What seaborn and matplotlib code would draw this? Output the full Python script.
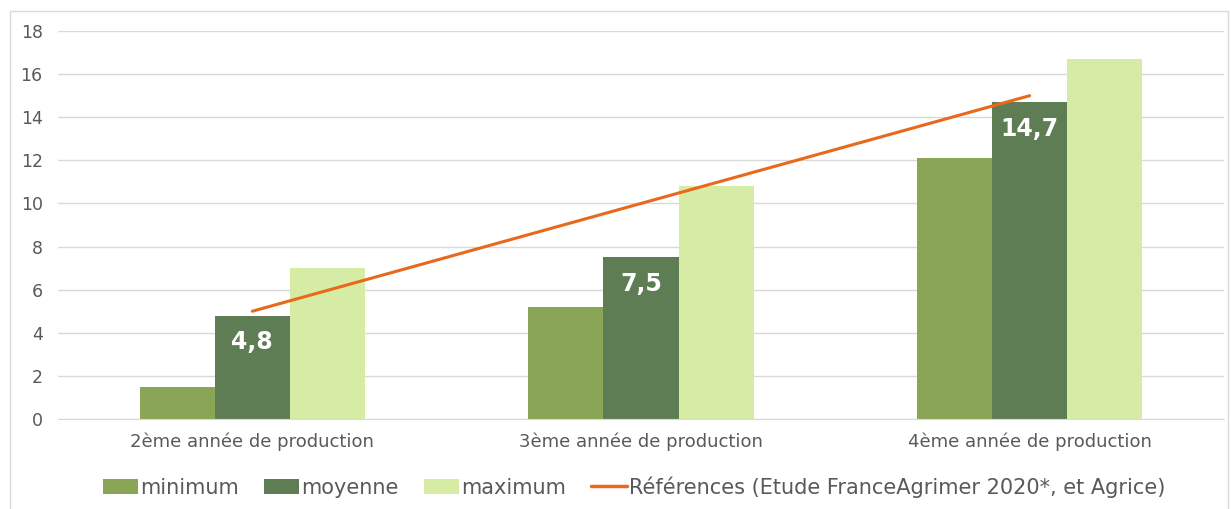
import pandas as pd
import matplotlib.pyplot as plt
import seaborn as sns
from matplotlib.patches import Rectangle, Patch
from matplotlib.lines import Line2D

# data
categories = ["2ème année de production", "3ème année de production", "4ème année de production"]
minimum = [1.5, 5.2, 12.1]
moyenne = [4.8, 7.5, 14.7]
maximum = [7.0, 10.8, 16.7]
references = [5, 10, 15]
series_names = ["minimum", "moyenne", "maximum"]
ref_name = "Références (Etude FranceAgrimer 2020*, et Agrice)"

colors = ["#8AA556", "#5E7D55", "#D6EBA3"]
orange = "#E8681C"
grey_txt = "#595959"

df = pd.DataFrame({
    "cat": categories * 3,
    "serie": [s for s in series_names for _ in categories],
    "val": minimum + moyenne + maximum,
})

sns.set_style("white")
plt.rcParams["font.family"] = ["DejaVu Sans"]

fig = plt.figure(figsize=(12.31, 5.09), dpi=100)
ax = fig.add_axes([58 / 1231, 1 - 419 / 509, (1224 - 58) / 1231, (419 - 31) / 509])

sns.barplot(data=df, x="cat", y="val", hue="serie", palette=colors, width=0.58,
            gap=0, saturation=1, linewidth=0, ax=ax, legend=False)
sns.lineplot(x=[0, 1, 2], y=references, color=orange, linewidth=2.2, ax=ax, legend=False)

# labels on moyenne bars
for i, v in enumerate(moyenne):
    ax.annotate(f"{v:.1f}".replace(".", ","), xy=(i, v), xytext=(0, -19),
                textcoords="offset points", ha="center", va="center",
                color="white", fontsize=17, fontweight="bold")

ax.set_ylim(0, 18)
ax.set_xlim(-0.5, 2.5)
ax.set_yticks(range(0, 19, 2))
ax.yaxis.grid(True, color="#D9D9D9", linewidth=1)
ax.set_axisbelow(True)
for s in ["left", "right", "top"]:
    ax.spines[s].set_visible(False)
ax.spines["bottom"].set_color("#D9D9D9")
ax.tick_params(axis="both", length=0, labelsize=12.5, colors=grey_txt)
ax.tick_params(axis="y", pad=11)
ax.tick_params(axis="x", pad=10, labelsize=13)
ax.set_xlabel("")
ax.set_ylabel("")

handles = [Patch(facecolor=c, edgecolor="none") for c in colors]
handles.append(Line2D([0], [0], color=orange, linewidth=2.5))
leg = fig.legend(handles, series_names + [ref_name], loc="center",
                 bbox_to_anchor=(0.515, 1 - 487 / 509), ncol=4, frameon=False,
                 fontsize=15, handlelength=1.7, handleheight=0.7,
                 handletextpad=0.1, columnspacing=1.2)
for t in leg.get_texts():
    t.set_color(grey_txt)

# light chart border
fig.patches.append(Rectangle((10 / 1231, -0.05), 1218 / 1231, 1 - 11 / 509 + 0.05,
                             transform=fig.transFigure, fill=False,
                             edgecolor="#D9D9D9", linewidth=1))

fig.savefig("out.png", dpi=100)
